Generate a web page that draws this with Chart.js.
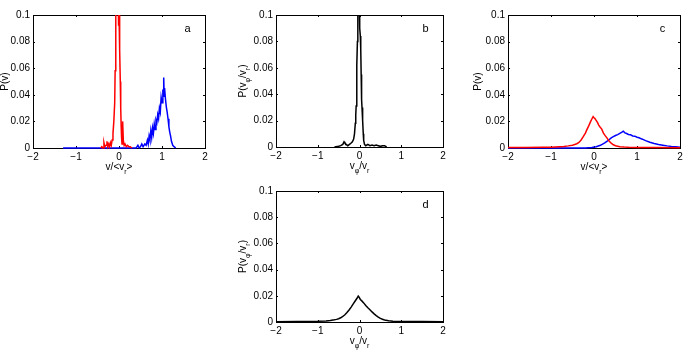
<!DOCTYPE html>
<html>
<head>
<meta charset="utf-8">
<script src="https://cdn.jsdelivr.net/npm/chart.js@4.4.1/dist/chart.umd.min.js"></script>
<style>
  body { margin: 0; background: #fff; }
  #page { position: relative; width: 690px; height: 356px; overflow: hidden; background: #fff; }
  #page canvas { position: absolute; }
</style>
</head>
<body>
<div id="page">
  <canvas id="chartA"></canvas>
  <canvas id="chartB"></canvas>
  <canvas id="chartC"></canvas>
  <canvas id="chartD"></canvas>
</div>
<script>
// ---- data ----
const xTicks = [-2, -1, 0, 1, 2];
const yTicks = [0, 0.02, 0.04, 0.06, 0.08, 0.1];

// panel a
const aRedX = [-0.42, -0.4, -0.37, -0.35, -0.33, -0.3, -0.28, -0.26, -0.24, -0.22, -0.2, -0.18, -0.16, -0.14, -0.12, -0.1, -0.09, -0.08, -0.07, -0.06, -0.05, -0.04, -0.03, -0.02, -0.01, 0, 0.01, 0.02, 0.03, 0.04, 0.05, 0.06, 0.07, 0.08, 0.09, 0.1, 0.12, 0.14, 0.17, 0.2, 0.23, 0.26, 0.3];
const aRedY = [0, 0.001, 0, 0.004, 0.001, 0.002, 0.005, 0.001, 0.003, 0.001, 0.004, 0.002, 0.006, 0.011, 0.02, 0.034, 0.058, 0.088, 0.118, 0.13, 0.108, 0.126, 0.14, 0.118, 0.092, 0.102, 0.088, 0.074, 0.05, 0.03, 0.017, 0.008, 0.003, 0.019, 0.02, 0.006, 0.002, 0.003, 0.001, 0.002, 0.001, 0.001, 0];
const aBlueX = [-1.3, 0.4, 0.44, 0.47, 0.5, 0.53, 0.56, 0.6, 0.63, 0.66, 0.68, 0.7, 0.72, 0.74, 0.76, 0.78, 0.8, 0.82, 0.84, 0.86, 0.88, 0.9, 0.92, 0.94, 0.96, 0.98, 1.0, 1.02, 1.03, 1.04, 1.05, 1.06, 1.08, 1.1, 1.12, 1.14, 1.16, 1.18, 1.2, 1.22, 1.25, 1.28, 1.32];
const aBlueY = [0, 0, 0.002, 0, 0.001, 0.003, 0.001, 0.003, 0.002, 0.006, 0.003, 0.009, 0.006, 0.013, 0.008, 0.015, 0.011, 0.018, 0.014, 0.021, 0.019, 0.025, 0.022, 0.03, 0.027, 0.038, 0.034, 0.044, 0.04, 0.053, 0.039, 0.045, 0.037, 0.031, 0.027, 0.022, 0.016, 0.012, 0.009, 0.005, 0.002, 0.001, 0];

// panel b
const bX = [-0.6, -0.5, -0.45, -0.4, -0.37, -0.35, -0.32, -0.28, -0.24, -0.2, -0.17, -0.14, -0.12, -0.1, -0.09, -0.08, -0.07, -0.06, -0.05, -0.04, -0.03, -0.02, -0.01, 0, 0.01, 0.02, 0.03, 0.04, 0.05, 0.06, 0.07, 0.08, 0.09, 0.1, 0.12, 0.15, 0.2, 0.25, 0.3, 0.35, 0.4, 0.45, 0.5, 0.55, 0.6, 0.65];
const bY = [0, 0.0005, 0.001, 0.002, 0.004, 0.003, 0.002, 0.001, 0.002, 0.003, 0.004, 0.006, 0.01, 0.018, 0.024, 0.031, 0.045, 0.062, 0.08, 0.1, 0.13, 0.14, 0.12, 0.1, 0.09, 0.084, 0.074, 0.055, 0.036, 0.03, 0.022, 0.02, 0.01, 0.005, 0.002, 0.001, 0.002, 0.001, 0.0015, 0.001, 0.0015, 0.001, 0.0005, 0.001, 0.001, 0];

// panel c
const cRedX = [-2, -1.6, -1.2, -1.0, -0.9, -0.8, -0.7, -0.6, -0.5, -0.45, -0.4, -0.35, -0.3, -0.25, -0.2, -0.16, -0.12, -0.08, -0.05, -0.02, 0, 0.02, 0.05, 0.08, 0.11, 0.14, 0.18, 0.22, 0.26, 0.3, 0.35, 0.4, 0.45, 0.5, 0.6, 0.7, 0.8, 1.0, 1.4, 2];
const cRedY = [0.0003, 0.0004, 0.0005, 0.0006, 0.0008, 0.001, 0.0012, 0.0016, 0.0021, 0.0026, 0.0032, 0.0042, 0.006, 0.0085, 0.0112, 0.0142, 0.0168, 0.0198, 0.0218, 0.0236, 0.0228, 0.0222, 0.0208, 0.0192, 0.0172, 0.0158, 0.0142, 0.0112, 0.0093, 0.0076, 0.0052, 0.0036, 0.0024, 0.0017, 0.001, 0.0007, 0.0005, 0.0004, 0.0003, 0.0002];
const cBlueX = [-2, -0.2, -0.05, 0.05, 0.15, 0.25, 0.3, 0.35, 0.4, 0.45, 0.5, 0.55, 0.6, 0.65, 0.68, 0.72, 0.76, 0.8, 0.85, 0.9, 0.95, 1.0, 1.05, 1.1, 1.15, 1.2, 1.3, 1.4, 1.5, 1.6, 1.7, 1.8, 1.9, 2];
const cBlueY = [0, 0, 0.0003, 0.001, 0.002, 0.0038, 0.005, 0.0062, 0.0076, 0.0085, 0.0094, 0.0101, 0.011, 0.0119, 0.0126, 0.0114, 0.0109, 0.0102, 0.0099, 0.0091, 0.0089, 0.0081, 0.0077, 0.0069, 0.0063, 0.0055, 0.0043, 0.0034, 0.0026, 0.0021, 0.0016, 0.0012, 0.0009, 0.0006];

// panel d
const dX = [-2, -1.5, -1.0, -0.8, -0.7, -0.6, -0.55, -0.5, -0.45, -0.4, -0.35, -0.3, -0.25, -0.2, -0.15, -0.1, -0.06, -0.03, -0.01, 0.02, 0.05, 0.1, 0.15, 0.2, 0.25, 0.3, 0.35, 0.4, 0.45, 0.5, 0.55, 0.6, 0.7, 0.8, 1.0, 1.5, 2];
const dY = [0.0002, 0.0003, 0.0005, 0.0008, 0.0012, 0.0017, 0.002, 0.0025, 0.0032, 0.0042, 0.0055, 0.0072, 0.0092, 0.0114, 0.0138, 0.0162, 0.0181, 0.0198, 0.019, 0.0172, 0.0163, 0.0146, 0.0126, 0.0109, 0.0094, 0.0077, 0.0062, 0.0049, 0.0038, 0.0028, 0.0021, 0.0015, 0.001, 0.0006, 0.0004, 0.0003, 0.0002];

// axis titles: [text, isSubscript]
const titleV = [['v/<v', 0], ['r', 1], ['>', 0]];
const titlePv = [['P(v)', 0]];
const titleRatio = [['v', 0], ['\u03c6', 1], ['/v', 0], ['r', 1]];
const titlePRatio = [['P(v', 0], ['\u03c6', 1], ['/v', 0], ['r', 1], [')', 0]];

const FONT = "'Liberation Sans', Arial, Helvetica, sans-serif";
const RED = '#ff0000';
const BLUE = '#0000ff';
const BLACK = '#000000';

// plot box [left, top, right, bottom] in page pixels
const panels = [
    { id: 'chartA', box: [33, 15, 205, 148], yAxisWidth: 33, yTitleGap: 25, letter: 'a',
      xTitle: titleV, yTitle: titlePv,
      series: [[aRedX, aRedY, RED], [aBlueX, aBlueY, BLUE]] },
    { id: 'chartB', box: [276, 15, 443, 147], yAxisWidth: 46, yTitleGap: 30, letter: 'b',
      xTitle: titleRatio, yTitle: titlePRatio,
      series: [[bX, bY, BLACK]] },
    { id: 'chartC', box: [508, 15, 680, 148], yAxisWidth: 40, yTitleGap: 27, letter: 'c',
      xTitle: titleV, yTitle: titlePv,
      series: [[cRedX, cRedY, RED], [cBlueX, cBlueY, BLUE]] },
    { id: 'chartD', box: [276, 191, 443, 322], yAxisWidth: 46, yTitleGap: 30, letter: 'd',
      xTitle: titleRatio, yTitle: titlePRatio,
      series: [[dX, dY, BLACK]] }
];

const PAD_TOP = 10;
const PAD_RIGHT = 10;
const X_AXIS_HEIGHT = 32;

function drawRich(ctx, parts, x, y, rotate) {
    const fonts = ['10px ' + FONT, '7px ' + FONT];
    ctx.save();
    ctx.translate(x, y);
    if (rotate) ctx.rotate(-Math.PI / 2);
    ctx.fillStyle = '#000';
    ctx.textAlign = 'left';
    ctx.textBaseline = 'alphabetic';
    let total = 0;
    parts.forEach(([text, sub]) => {
        ctx.font = fonts[sub];
        total += ctx.measureText(text).width;
    });
    let cur = -total / 2;
    parts.forEach(([text, sub]) => {
        ctx.font = fonts[sub];
        ctx.fillText(text, cur, sub ? 3.5 : 0);
        cur += ctx.measureText(text).width;
    });
    ctx.restore();
}

// matlab-style box, inward ticks, panel letter and axis titles
const framePlugin = {
    id: 'frame',
    beforeDatasetsDraw(chart, args, opts) {
        const { ctx, chartArea: a, scales } = chart;
        const len = 2;
        ctx.save();
        ctx.strokeStyle = '#000';
        ctx.lineWidth = 1;
        ctx.strokeRect(a.left + 0.5, a.top + 0.5, a.right - a.left, a.bottom - a.top);
        ctx.beginPath();
        scales.x.ticks.forEach(t => {
            const px = Math.round(scales.x.getPixelForValue(t.value)) + 0.5;
            ctx.moveTo(px, a.bottom); ctx.lineTo(px, a.bottom - len);
            ctx.moveTo(px, a.top); ctx.lineTo(px, a.top + len);
        });
        scales.y.ticks.forEach(t => {
            const py = Math.round(scales.y.getPixelForValue(t.value)) + 0.5;
            ctx.moveTo(a.left, py); ctx.lineTo(a.left + len, py);
            ctx.moveTo(a.right, py); ctx.lineTo(a.right - len, py);
        });
        ctx.stroke();
        ctx.restore();
    },
    afterDraw(chart, args, opts) {
        const { ctx, chartArea: a } = chart;
        ctx.save();
        ctx.fillStyle = '#000';
        ctx.font = '11px ' + FONT;
        ctx.textAlign = 'center';
        ctx.textBaseline = 'middle';
        ctx.fillText(opts.letter, a.right - 17.5, a.top + 14);
        ctx.restore();
        drawRich(ctx, opts.xTitle, (a.left + a.right) / 2, a.bottom + 22, false);
        drawRich(ctx, opts.yTitle, a.left - opts.yTitleGap, (a.top + a.bottom) / 2, true);
    }
};

function buildPanel(p) {
    const [l, t, r, b] = p.box;
    const canvas = document.getElementById(p.id);
    const w = (r - l) + p.yAxisWidth + PAD_RIGHT;
    const h = (b - t) + PAD_TOP + X_AXIS_HEIGHT;
    canvas.width = w;
    canvas.height = h;
    canvas.style.width = w + 'px';
    canvas.style.height = h + 'px';
    canvas.style.left = (l - p.yAxisWidth) + 'px';
    canvas.style.top = (t - PAD_TOP) + 'px';

    const tickFont = { family: FONT, size: 10 };
    const noGrid = { display: false, drawTicks: false, tickLength: 0 };

    return new Chart(canvas.getContext('2d'), {
        type: 'line',
        data: {
            datasets: p.series.map(([xs, ys, color]) => ({
                data: xs.map((x, i) => ({ x: x, y: ys[i] })),
                borderColor: color,
                borderWidth: 1.5,
                pointRadius: 0,
                tension: 0,
                fill: false,
                clip: { left: 2, top: 0, right: 2, bottom: 2 }
            }))
        },
        options: {
            responsive: false,
            animation: false,
            devicePixelRatio: 1,
            layout: { padding: { top: PAD_TOP, right: PAD_RIGHT, left: 0, bottom: 0 } },
            plugins: {
                legend: { display: false },
                tooltip: { enabled: false },
                frame: { letter: p.letter, xTitle: p.xTitle, yTitle: p.yTitle, yTitleGap: p.yTitleGap }
            },
            scales: {
                x: {
                    type: 'linear',
                    min: xTicks[0],
                    max: xTicks[xTicks.length - 1],
                    afterBuildTicks: s => { s.ticks = xTicks.map(v => ({ value: v })); },
                    ticks: {
                        padding: 3,
                        color: '#000',
                        font: tickFont,
                        maxRotation: 0,
                        callback: v => String(v).replace('-', '\u2212')
                    },
                    grid: noGrid,
                    border: { display: false },
                    afterFit: s => { s.height = X_AXIS_HEIGHT; }
                },
                y: {
                    type: 'linear',
                    min: yTicks[0],
                    max: yTicks[yTicks.length - 1],
                    afterBuildTicks: s => { s.ticks = yTicks.map(v => ({ value: v })); },
                    ticks: {
                        padding: 3,
                        color: '#000',
                        font: tickFont,
                        callback: v => String(Number(v.toFixed(2)))
                    },
                    grid: noGrid,
                    border: { display: false },
                    afterFit: s => { s.width = p.yAxisWidth; }
                }
            }
        },
        plugins: [framePlugin]
    });
}

panels.forEach(buildPanel);
</script>
</body>
</html>
